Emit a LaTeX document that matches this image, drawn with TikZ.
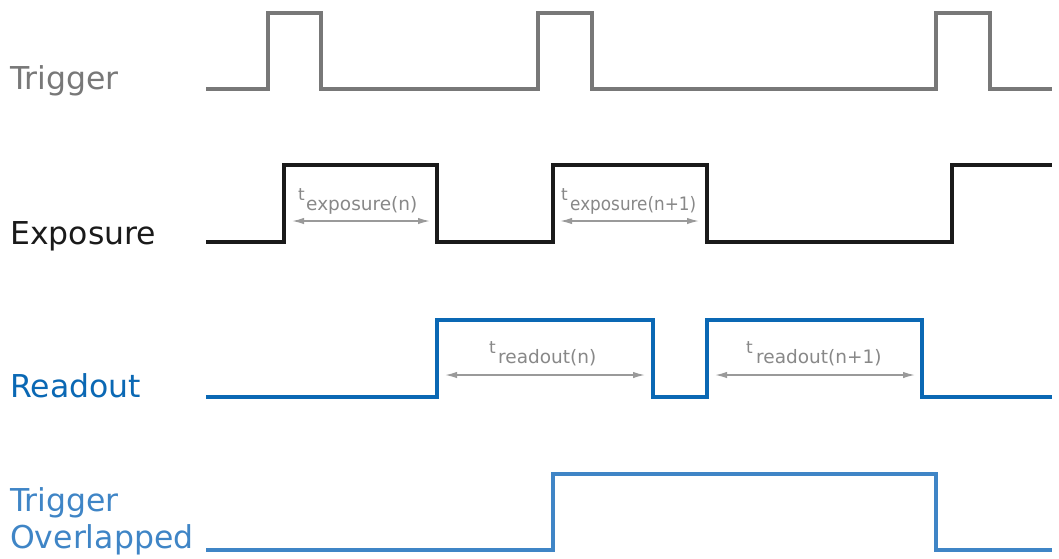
\documentclass[tikz,border=0pt]{standalone}
\usepackage{fontspec}
\setmainfont{DejaVu Sans}
\usetikzlibrary{arrows.meta}
\definecolor{trig}{HTML}{787878}
\definecolor{expo}{HTML}{1A1A1A}
\definecolor{read}{HTML}{0A68B4}
\definecolor{ovl}{HTML}{3F85C6}
\definecolor{dim}{HTML}{9A9A9A}
\definecolor{dimtext}{HTML}{888888}
\begin{document}
\begin{tikzpicture}[x=1pt,y=-1pt,
  signal/.style={line width=3.6pt, line join=miter},
  lab/.style={anchor=base west, inner sep=0pt, font=\fontsize{31.5}{36}\selectfont},
  dimline/.style={dim, line width=1.6pt, {Latex[length=12pt,width=6.5pt]}-{Latex[length=12pt,width=6.5pt]}},
  tsym/.style={anchor=base west, inner sep=0pt, text=dimtext, font=\fontsize{17}{20}\selectfont},
  tsub/.style={anchor=base west, inner sep=0pt, text=dimtext, font=\fontsize{18.5}{22}\selectfont}]
\useasboundingbox (0,0) rectangle (1059,558);

% labels
\node[lab, text=trig] (lTrig) at (10,89) {Trigger};
\node[lab, text=expo] (lExpo) at (10,244) {Exposure};
\node[lab, text=read] (lRead) at (10,397) {Readout};
\node[lab, text=ovl] (lOvl1) at (10,511) {Trigger};
\node[lab, text=ovl] (lOvl2) at (10,548) {Overlapped};

% signals
\draw[signal, trig] (206,89) -- (268,89) -- (268,13) -- (321,13) -- (321,89) -- (538,89) -- (538,13) -- (592,13) -- (592,89) -- (936,89) -- (936,13) -- (990,13) -- (990,89) -- (1052,89);
\draw[signal, expo] (206,242) -- (284,242) -- (284,165) -- (437,165) -- (437,242) -- (553,242) -- (553,165) -- (707,165) -- (707,242) -- (952,242) -- (952,165) -- (1052,165);
\draw[signal, read] (206,397) -- (437,397) -- (437,320) -- (653,320) -- (653,397) -- (707,397) -- (707,320) -- (922,320) -- (922,397) -- (1052,397);
\draw[signal, ovl] (206,550) -- (553,550) -- (553,474) -- (936,474) -- (936,550) -- (1052,550);

% dimension arrows
\coordinate (e1a) at (292,221); \coordinate (e1b) at (430,221);
\coordinate (e2a) at (560,221); \coordinate (e2b) at (699,221);
\coordinate (r1a) at (445,375); \coordinate (r1b) at (645,375);
\coordinate (r2a) at (715,375); \coordinate (r2b) at (915,375);
\draw[dimline] (e1a) -- (e1b);
\draw[dimline] (e2a) -- (e2b);
\draw[dimline] (r1a) -- (r1b);
\draw[dimline] (r2a) -- (r2b);

% dimension labels
\node[tsym] (te1) at (298,200) {t};
\node[tsub] (se1) at (306,210) {exposure(n)};
\node[tsym] (te2) at (561,200) {t};
\node[tsub] (se2) at (570,210) {\scalebox{0.91}[1]{exposure(n+1)}};
\node[tsym] (tr1) at (489,353) {t};
\node[tsub] (sr1) at (498,363) {readout(n)};
\node[tsym] (tr2) at (746,353) {t};
\node[tsub] (sr2) at (756,363) {readout(n+1)};
\end{tikzpicture}
\end{document}
